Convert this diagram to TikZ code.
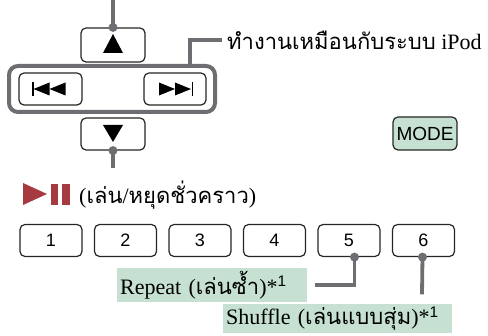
\documentclass[tikz,border=0pt]{standalone}
\usepackage{fontspec}
\setmainfont{Liberation Serif}
\setsansfont{Liberation Sans}
\newfontfamily\thaifont[Script=Thai]{Loma}
\usetikzlibrary{positioning}
\definecolor{linegray}{HTML}{6D6E71}
\definecolor{keygreen}{HTML}{C6E1D1}
\definecolor{playred}{HTML}{A73A40}
\tikzset{
  {key/.style} ={draw=black!85, line width=1.2pt, rounded corners=5pt,
                 fill=white, minimum width=62pt, minimum height=32pt,
                 font=\sffamily\fontsize{18}{18}\selectfont},
  {group box/.style} ={draw=linegray, line width=4pt, rounded corners=9pt},
  {lead/.style} ={draw=linegray, line width=3.8pt},
  {lead dot/.style} ={circle, fill=linegray, inner sep=0, minimum size=9pt},
  {label box/.style} ={fill=keygreen, inner sep=3pt, anchor=west, align=left,
                 font=\fontsize{22}{24}\selectfont},
  {note/.style} ={anchor=west, inner sep=0, font=\fontsize{22}{24}\selectfont},
}
\begin{document}
\begin{tikzpicture}[x=1pt, y=-1pt]
\useasboundingbox (0,0) rectangle (488,336);

% cursor keys
\draw[group box] (9,66) rectangle (215,112);
\node[key, minimum width=64pt, minimum height=34pt] (up) at (113,45) {};
\node[key, minimum width=63pt] (prev) at (50.5,89) {};
\node[key] (next) at (175,89) {};
\node[key, minimum width=64pt] (down) at (113,134) {};
\coordinate (grp) at (190,66);

\fill ([shift={(-10,8)}]up.center) -- ++(20,0) -- ++(-10,-19) -- cycle;
\fill ([shift={(-10,-9)}]down.center) -- ++(20,0) -- ++(-10,17) -- cycle;
\fill ([shift={(-18.5,-7)}]prev.center) rectangle ++(1.6,14);
\fill ([shift={(-17,0)}]prev.center) -- ++(16,-6.5) -- ++(0,13) -- cycle;
\fill ([shift={(-1,0)}]prev.center) -- ++(16,-6.5) -- ++(0,13) -- cycle;
\fill ([shift={(16.5,-7)}]next.center) rectangle ++(1.6,14);
\fill ([shift={(16,0)}]next.center) -- ++(-16,-6.5) -- ++(0,13) -- cycle;
\fill ([shift={(0,0)}]next.center) -- ++(-16,-6.5) -- ++(0,13) -- cycle;

\node[note] (ipod) at (227,40) {{\thaifont ทำงานเหมือนกับระบบ} iPod};
\coordinate (top) at (113,0);
\coordinate (bot) at (113,168);

\draw[lead] (top) -- (up.north);
\node[lead dot] at (up.north) {};
\draw[lead] (down.south) -- (bot);
\node[lead dot] at (down.south) {};
\draw[lead] (grp) |- ([xshift=-5pt]ipod.west);

% mode
\node[key, fill=keygreen, minimum width=64pt, minimum height=33pt,
      font=\sffamily\fontsize{19}{19}\selectfont, inner sep=1pt] (mode) at (425,133.5) {MODE};

% play / pause
\node[note] (pause) at (79,195) {({\thaifont เล่น}/{\thaifont หยุดชั่วคราว})};
\fill[playred] (23,183) -- (47,194) -- (23,205) -- cycle;
\fill[playred] (51,184) rectangle (58,205);
\fill[playred] (62,184) rectangle (70,205);

% preset keys
\foreach \i in {1,...,6}
  \node[key] (b\i) at ({51+74.5*(\i-1)},240.5) {\i};

\node[label box, minimum height=30pt, text width=184pt] (rep) at (117,285)
  {Repeat ({\thaifont เล่นซ้ำ})*\textsuperscript{\sffamily 1}};
\node[label box, minimum height=29pt, text width=223pt] (shuf) at (223,318.5)
  {Shuffle ({\thaifont เล่นแบบสุ่ม})*\textsuperscript{\sffamily 1}};
\coordinate (repend) at ([xshift=8pt]rep.east);
\coordinate (shufend) at ([yshift=9pt]shuf.north -| 422,0);

\draw[lead] ([xshift=5.5pt]b5.south) |- (repend);
\node[lead dot] at ([xshift=5.5pt]b5.south) {};
\draw[lead] ([xshift=-1pt]b6.south) -- (shufend);
\node[lead dot] at ([xshift=-1pt]b6.south) {};
\end{tikzpicture}
\end{document}
